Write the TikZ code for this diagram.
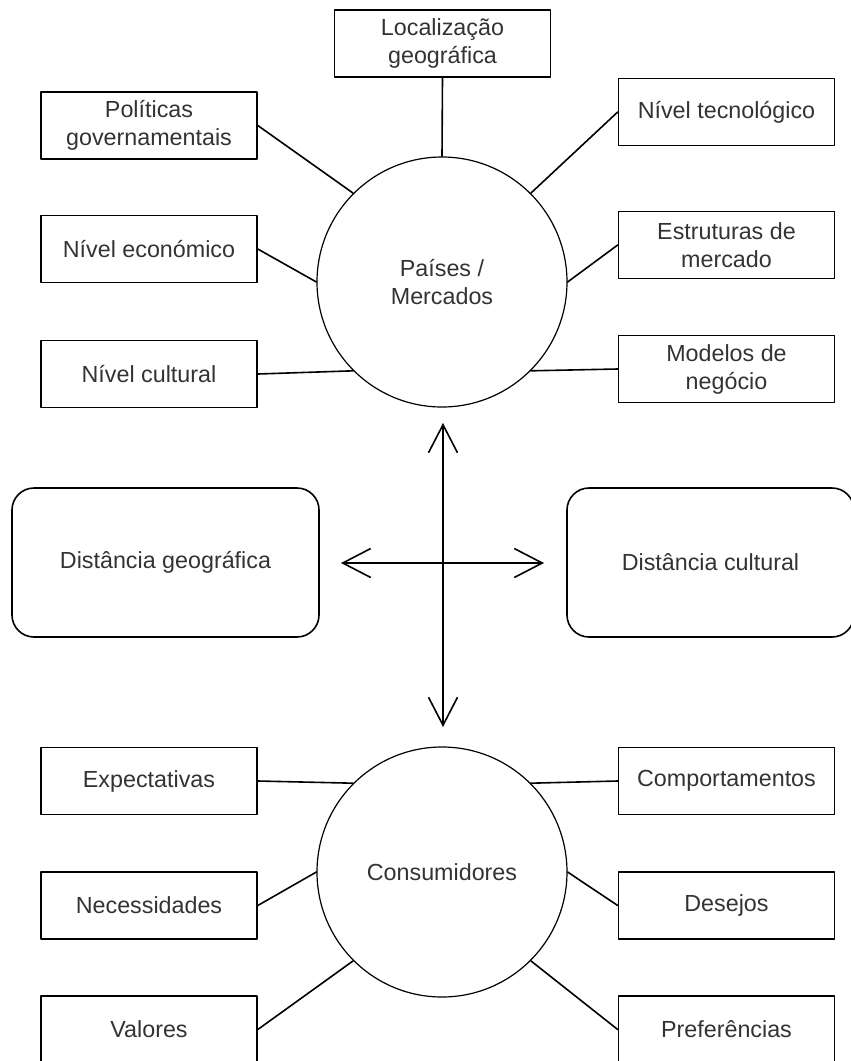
\documentclass[tikz,border=0pt]{standalone}
\usepackage{fontspec}
\setmainfont{Liberation Sans}
\usetikzlibrary{arrows.meta}
\begin{document}
\begin{tikzpicture}[x=1pt, y=-1pt, line join=round, line cap=round,
	font=\fontsize{23.3}{28}\selectfont,
	caixa/.style={draw, line width=1.6pt, minimum width=216pt, minimum height=67pt, inner sep=0pt, align=center, text=black!80},
	bola/.style={draw, circle, line width=1.2pt, minimum size=250pt, inner sep=0pt, align=center, text=black!80},
	distancia/.style={draw, rounded corners=22pt, line width=1.6pt, minimum height=149pt, inner sep=0pt, text=black!80},
	liga/.style={line width=1.6pt},
	seta/.style={line width=1.6pt, {Straight Barb[length=28pt,width=29pt]}-{Straight Barb[length=28pt,width=29pt]}}]
	\def\xe{149} \def\xd{726.5} \def\xc{442} % colunas
	\useasboundingbox (0,0) rectangle (851,1061);
	% Países / Mercados
	\node[bola] (pais) at (\xc,282) {Países /\\Mercados};
	\node[caixa] (loc) at (442.5,43.5) {Localização\\geográfica};
	\node[caixa] (pol) at (\xe,125.5) {Políticas\\governamentais};
	\node[caixa] (eco) at (\xe,249) {Nível económico};
	\node[caixa] (cul) at (\xe,374) {Nível cultural};
	\node[caixa] (tec) at (\xd,112) {Nível tecnológico};
	\node[caixa] (est) at (\xd,245) {Estruturas de\\mercado};
	\node[caixa] (mod) at (\xd,369) {Modelos de\\negócio};
	\draw[liga] (loc.south)--(pais.north);
	\draw[liga] (pol.east)--(pais.135);
	\draw[liga] (eco.east)--(pais.west);
	\draw[liga] (cul.east)--(pais.225);
	\draw[liga] (tec.west)--(pais.45);
	\draw[liga] (est.west)--(pais.east);
	\draw[liga] (mod.west)--(pais.-45);
	% distâncias
	\node[distancia, minimum width=307pt] (dgeo) at (165.5,562.5) {Distância geográfica};
	\node[distancia, minimum width=287pt] (dcul) at (710.5,562.5) {Distância cultural};
	\coordinate (cima) at (443,423); \coordinate (baixo) at (443,727);
	\coordinate (esq) at (341,563); \coordinate (dir) at (544,563);
	\draw[seta] (cima)--(baixo);
	\draw[seta] (esq)--(dir);
	% Consumidores
	\node[bola] (cons) at (\xc,872) {Consumidores};
	\node[caixa] (exp) at (\xe,781) {Expectativas};
	\node[caixa] (nec) at (\xe,905.5) {Necessidades};
	\node[caixa] (val) at (\xe,1029.5) {Valores};
	\node[caixa] (com) at (\xd,781) {Comportamentos};
	\node[caixa] (des) at (\xd,905.5) {Desejos};
	\node[caixa] (pre) at (\xd,1029.5) {Preferências};
	\draw[liga] (exp.east)--(cons.135);
	\draw[liga] (nec.east)--(cons.west);
	\draw[liga] (val.east)--(cons.225);
	\draw[liga] (com.west)--(cons.45);
	\draw[liga] (des.west)--(cons.east);
	\draw[liga] (pre.west)--(cons.-45);
\end{tikzpicture}
\end{document}
